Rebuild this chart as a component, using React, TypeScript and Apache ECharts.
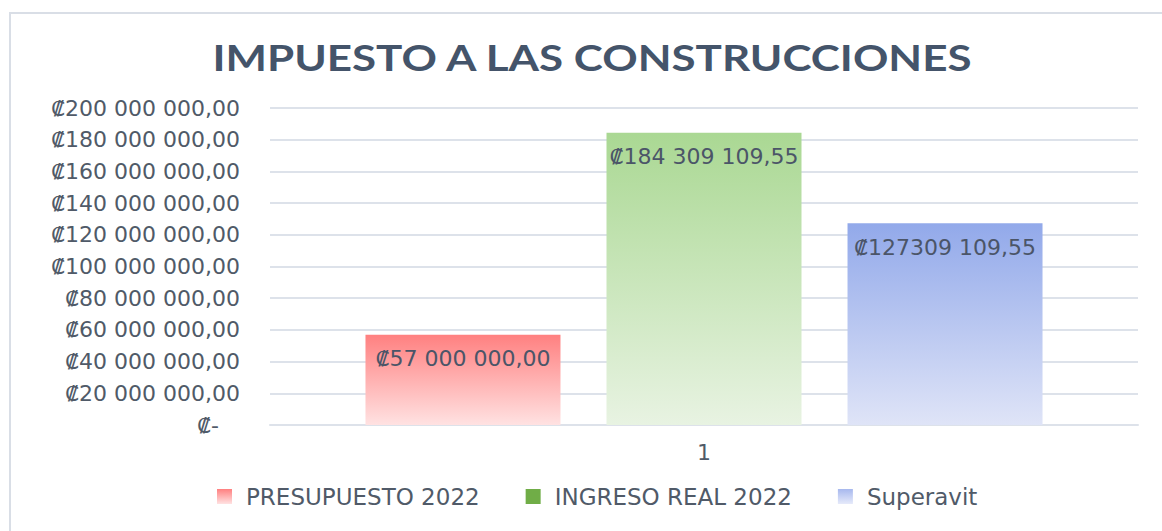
import React, { useEffect, useRef } from "react";
import * as echarts from "echarts";

const categories = ["1"];
const seriesNames = ["PRESUPUESTO 2022", "INGRESO REAL 2022", "Superavit"];
const presupuesto = [57000000];
const ingresoReal = [184309109.55];
const superavit = [127309109.55];
const dataLabels = ["₡57 000 000,00", "₡184 309 109,55", "₡127309 109,55"];
const yTicks = { min: 0, max: 200000000, interval: 20000000 };
const titleText = "IMPUESTO A LAS CONSTRUCCIONES";

const FONT = "'DejaVu Sans', sans-serif";
const TEXT = "#505a68";

function fmtAxis(v: number): string {
  if (v === 0) return "₡-\u00A0\u00A0\u00A0";
  const s = Math.round(v).toString().replace(/\B(?=(\d{3})+(?!\d))/g, " ");
  return "₡" + s + ",00";
}

function grad(top: string, bottom: string) {
  return new echarts.graphic.LinearGradient(0, 0, 0, 1, [
    { offset: 0, color: top },
    { offset: 1, color: bottom },
  ]);
}

export default function App() {
  const ref = useRef<HTMLDivElement>(null);
  useEffect(() => {
    if (!ref.current) return;
    const chart = echarts.init(ref.current, null, { renderer: "svg" });
    const fills = [
      grad("#ff8080", "#ffe2e2"),
      grad("#aad893", "#e8f3e2"),
      grad("#92a9ea", "#dfe4f7"),
    ];
    const legendIcons = [
      grad("#ff8080", "#ffe2e2"),
      "#70ad47",
      grad("#a7b8ee", "#e6eafa"),
    ];
    const values = [presupuesto, ingresoReal, superavit];
    chart.setOption({
      animation: false,
      backgroundColor: "#ffffff",
      graphic: [
        {
          type: "rect",
          shape: { x: 10, y: 13, width: 1300, height: 700 },
          style: { fill: "none", stroke: "#d9dee6", lineWidth: 2 },
          silent: true,
        },
        {
          type: "text",
          x: 592,
          y: 57,
          scaleX: 1.22,
          style: {
            text: titleText,
            fontFamily: "Lato, sans-serif",
            fontWeight: "bold",
            fontSize: 36,
            fill: "#44546a",
            textAlign: "center",
            textVerticalAlign: "middle",
          },
          silent: true,
        },
      ],
      legend: {
        bottom: 18,
        left: 212,
        itemWidth: 15,
        itemHeight: 15,
        itemGap: 46,
        icon: "rect",
        textStyle: { fontFamily: FONT, fontSize: 23, color: TEXT, padding: [0, 0, 0, 9] },
        data: seriesNames.map((n, i) => ({ name: n, itemStyle: { color: legendIcons[i] } })),
      },
      grid: { left: 270, right: 24, top: 108, bottom: 106 },
      xAxis: {
        type: "category",
        data: categories,
        axisLine: { show: true, lineStyle: { color: "#dde2ea", width: 2 } },
        axisTick: { show: false },
        axisLabel: { fontFamily: FONT, fontSize: 22, color: TEXT, margin: 16 },
      },
      yAxis: {
        type: "value",
        min: yTicks.min,
        max: yTicks.max,
        interval: yTicks.interval,
        axisLine: { show: false },
        axisTick: { show: false },
        splitLine: { lineStyle: { color: "#dde2ea", width: 2 } },
        axisLabel: { fontFamily: FONT, fontSize: 22, color: TEXT, margin: 30, formatter: fmtAxis },
      },
      series: seriesNames.map((n, i) => ({
        name: n,
        type: "bar",
        data: values[i],
        barWidth: 195,
        barGap: "23.6%",
        itemStyle: { color: fills[i] },
        label: {
          show: true,
          position: "insideTop",
          distance: 13,
          fontFamily: FONT,
          fontSize: 22,
          color: "#4b5568",
          formatter: () => dataLabels[i],
        },
      })),
    });
    return () => chart.dispose();
  }, []);
  return (
    <div
      ref={ref}
      style={{ position: "fixed", left: 0, top: 0, width: 1162, height: 531 }}
    />
  );
}
